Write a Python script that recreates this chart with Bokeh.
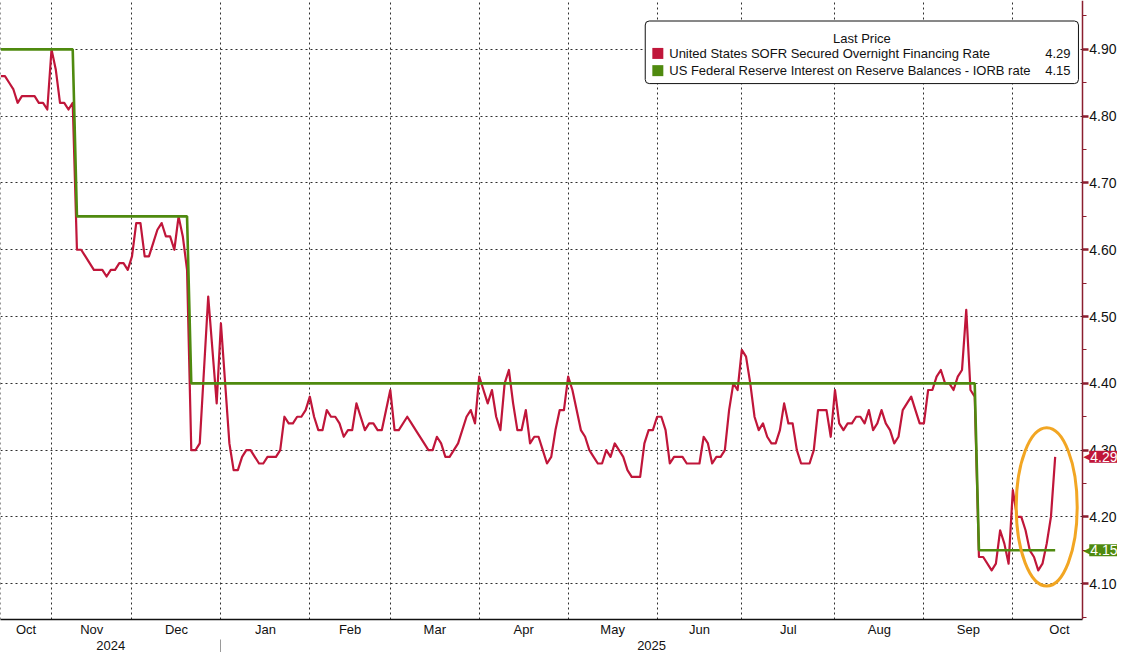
import pandas as pd
from bokeh.plotting import figure
from bokeh.models import (Range1d, FixedTicker, LinearAxis, Label, BoxAnnotation,
                          CustomJSTickFormatter, PrintfTickFormatter)
from bokeh.embed import file_html
from bokeh.resources import INLINE

# ---------------- data ----------------
# business-day calendar of the chart (day 0 = 16 Oct 2024)
first_day = "2024-10-16"
calendar_end = "2025-11-28"
market_holidays = ["2024-11-11", "2024-11-28", "2024-12-25", "2025-01-01", "2025-01-20",
                   "2025-02-17", "2025-04-18", "2025-05-26", "2025-06-19", "2025-07-04",
                   "2025-09-01", "2025-10-13", "2025-11-11"]

# United States SOFR (vertices of the line: business-day number, rate %)
sofr_day = [0, 1, 2, 3, 4, 5, 8, 9, 10, 11, 12, 13, 14, 15, 16, 17, 18, 19, 20, 22,
            24, 25, 26, 27, 28, 29, 30, 31, 32, 33, 34, 35, 36, 37, 38, 39, 40, 41, 42, 43,
            44, 45, 46, 47, 49, 51, 52, 54, 55, 56, 57, 58, 59, 60, 61, 62, 63, 65, 66, 67,
            68, 69, 70, 71, 72, 73, 74, 75, 76, 77, 78, 79, 80, 81, 82, 83, 84, 85, 86, 87,
            88, 89, 90, 92, 93, 94, 96, 97, 98, 100, 101, 102, 103, 104, 105, 106, 107, 108, 110, 111,
            112, 113, 114, 115, 116, 117, 118, 119, 120, 121, 122, 123, 124, 125, 126, 127, 128, 129, 130, 131,
            132, 133, 134, 135, 136, 137, 138, 139, 140, 141, 142, 143, 144, 145, 146, 147, 148, 149, 151, 152,
            153, 154, 155, 156, 157, 158, 159, 161, 162, 165, 166, 167, 168, 169, 170, 171, 172, 173, 174, 175,
            176, 177, 178, 179, 180, 181, 182, 183, 184, 185, 186, 187, 188, 189, 191, 192, 193, 195, 196, 197,
            198, 199, 200, 201, 202, 203, 204, 205, 206, 207, 208, 209, 210, 211, 212, 213, 214, 215, 216, 217,
            218, 219, 220, 221, 222, 223, 224, 225, 226, 227, 228, 229, 230, 231, 232, 234, 235, 236, 237, 238,
            239, 240, 241, 242, 243, 244, 245, 246, 247, 248, 249]
sofr_rate = [4.86, 4.86, 4.85, 4.84, 4.82, 4.83, 4.83, 4.82, 4.82, 4.81, 4.90, 4.87, 4.82, 4.82, 4.81, 4.82, 4.60, 4.60, 4.59, 4.57,
             4.57, 4.56, 4.57, 4.57, 4.58, 4.58, 4.57, 4.59, 4.64, 4.64, 4.59, 4.59, 4.61, 4.63, 4.64, 4.62, 4.62, 4.60, 4.65, 4.62,
             4.57, 4.30, 4.30, 4.31, 4.53, 4.37, 4.49, 4.31, 4.27, 4.27, 4.29, 4.30, 4.30, 4.29, 4.28, 4.28, 4.29, 4.29, 4.30, 4.35,
             4.34, 4.34, 4.35, 4.35, 4.36, 4.38, 4.35, 4.33, 4.33, 4.36, 4.35, 4.35, 4.34, 4.32, 4.33, 4.33, 4.37, 4.35, 4.33, 4.34,
             4.34, 4.33, 4.33, 4.39, 4.33, 4.33, 4.35, 4.34, 4.33, 4.31, 4.30, 4.30, 4.32, 4.31, 4.29, 4.29, 4.30, 4.31, 4.35, 4.36,
             4.34, 4.41, 4.39, 4.37, 4.39, 4.35, 4.33, 4.40, 4.42, 4.37, 4.33, 4.33, 4.36, 4.31, 4.32, 4.32, 4.30, 4.28, 4.29, 4.33,
             4.36, 4.36, 4.41, 4.39, 4.36, 4.33, 4.32, 4.30, 4.29, 4.28, 4.28, 4.30, 4.29, 4.31, 4.30, 4.29, 4.27, 4.26, 4.26, 4.31,
             4.33, 4.33, 4.35, 4.35, 4.33, 4.28, 4.29, 4.29, 4.28, 4.28, 4.32, 4.31, 4.28, 4.29, 4.29, 4.30, 4.36, 4.40, 4.39, 4.45,
             4.44, 4.40, 4.35, 4.33, 4.34, 4.32, 4.31, 4.31, 4.33, 4.37, 4.34, 4.34, 4.30, 4.28, 4.28, 4.30, 4.36, 4.36, 4.32, 4.39,
             4.34, 4.33, 4.34, 4.34, 4.35, 4.35, 4.34, 4.36, 4.33, 4.34, 4.36, 4.34, 4.33, 4.31, 4.32, 4.36, 4.37, 4.38, 4.36, 4.34,
             4.34, 4.39, 4.39, 4.41, 4.42, 4.40, 4.40, 4.39, 4.41, 4.42, 4.51, 4.39, 4.38, 4.14, 4.14, 4.12, 4.13, 4.18, 4.16, 4.13,
             4.24, 4.20, 4.20, 4.18, 4.15, 4.14, 4.12, 4.13, 4.16, 4.20, 4.29]

# US Federal Reserve Interest on Reserve Balances (IORB): first business day of each rate
iorb_from_day = [0, 18, 45, 231]
iorb_rate = [4.90, 4.65, 4.40, 4.15]

sofr_name = "United States SOFR Secured Overnight Financing Rate"
iorb_name = "US Federal Reserve Interest on Reserve Balances - IORB rate"
legend_title = "Last Price"

y_ticks = [4.10, 4.20, 4.30, 4.40, 4.50, 4.60, 4.70, 4.80, 4.90]

# visible window (business days / rate); the price axis sits at x_axis_at
x_start, x_axis_at = -0.05, 255.4
y_bottom, y_top = 4.0464, 4.9732

# ---------------- derived ----------------
bdays = pd.bdate_range(first_day, calendar_end, freq="C", holidays=market_holidays)
periods = bdays.to_period("M")
month_first = []
for i, m in enumerate(periods):
    if not month_first or month_first[-1][0] != m:
        month_first.append((m, i))

grid_days = [i for (m, i) in month_first if x_start < i < x_axis_at]
month_pos, month_txt = [], []
for k in range(len(month_first) - 1):
    m, f = month_first[k]
    n = month_first[k + 1][1]
    if f < x_axis_at:
        month_pos.append((max(f, x_start) + n) / 2.0)
        month_txt.append(m.strftime("%b"))

year_break = [i for (m, i) in month_first if m.month == 1][0]
year_pos = [(x_start + year_break) / 2.0, (year_break + x_axis_at) / 2.0]
year_txt = [str(periods[0].year), str(periods[year_break].year)]

iorb_x, iorb_y = [], []
for k, (d, r) in enumerate(zip(iorb_from_day, iorb_rate)):
    end = iorb_from_day[k + 1] - 1 if k + 1 < len(iorb_from_day) else sofr_day[-1]
    iorb_x += [d, end]
    iorb_y += [r, r]

y_minor = [round(t + 0.05, 2) for t in y_ticks] + [round(y_ticks[0] - 0.05, 2)]

# ---------------- style ----------------
RED = "#C0163A"
GREEN = "#4F8A0F"
AXIS_RED = "#8B1E2F"
GRID = "#2e2e2e"
ORANGE = "#F2A623"
FONT = "Liberation Sans"

W, H = 1117, 652
RIGHT_PANEL = 7                                # tick + standoff of the fixed price axis
LABEL_PX = 35                                  # room right of the price axis inside the frame
BOTTOM_PANEL = 41
frame_w = W - RIGHT_PANEL
px_per_day = (frame_w - LABEL_PX) / (x_axis_at - x_start)
x_total_end = x_axis_at + LABEL_PX / px_per_day

p = figure(width=W, height=H, x_range=Range1d(x_start, x_total_end), y_range=Range1d(y_bottom, y_top),
           y_axis_location="right", toolbar_location=None, output_backend="svg",
           min_border_left=0, min_border_top=0, min_border_right=0, min_border_bottom=0)
p.outline_line_color = None
p.background_fill_color = "white"
p.border_fill_color = "white"

# grid
p.xgrid.ticker = FixedTicker(ticks=grid_days)
for g in (p.xgrid, p.ygrid):
    g.grid_line_color = GRID
    g.grid_line_alpha = 1.0
    g.grid_line_dash = "2 3"
    g.grid_line_width = 1

# white strip to the right of the price axis (keeps grid lines out of the label area)
p.add_layout(BoxAnnotation(left=x_axis_at, right=x_total_end, fill_color="white", fill_alpha=1,
                           line_color=None, level="underlay"))

# lines
p.line(sofr_day, sofr_rate, line_color=RED, line_width=2.2, line_join="round")
p.line(iorb_x, iorb_y, line_color=GREEN, line_width=2.6)

# price axis (right)
yax = p.yaxis[0]
yax.fixed_location = x_axis_at
yax.ticker = FixedTicker(ticks=y_ticks, minor_ticks=y_minor)
yax.formatter = PrintfTickFormatter(format="%.2f")
yax.axis_line_color = AXIS_RED
yax.axis_line_width = 1.5
yax.major_tick_line_color = AXIS_RED
yax.major_tick_line_width = 2.5
yax.major_tick_in = 0
yax.major_tick_out = 6
yax.minor_tick_line_color = AXIS_RED
yax.minor_tick_in = 0
yax.minor_tick_out = 4
yax.major_label_text_font = FONT
yax.major_label_text_font_size = "14px"
yax.major_label_text_color = "#111111"
yax.major_label_standoff = 1

# month axis
xax = p.xaxis[0]
xax.bounds = (x_start, x_axis_at)
xax.ticker = FixedTicker(ticks=month_pos)
xax.formatter = CustomJSTickFormatter(args=dict(pos=month_pos, names=month_txt), code="""
    for (let i = 0; i < pos.length; i++) { if (Math.abs(pos[i] - tick) < 1e-6) return names[i]; }
    return "";
""")
xax.axis_line_color = "#111111"
xax.axis_line_width = 1.5
xax.major_tick_line_color = None
xax.major_tick_in = 0
xax.major_tick_out = 0
xax.minor_tick_line_color = None
xax.major_label_text_font = FONT
xax.major_label_text_font_size = "13px"
xax.major_label_text_color = "#111111"
xax.major_label_standoff = 2

# year axis with separator between the years
yr = LinearAxis(ticker=FixedTicker(ticks=year_pos, minor_ticks=[year_break]),
                formatter=CustomJSTickFormatter(args=dict(pos=year_pos, names=year_txt), code="""
    for (let i = 0; i < pos.length; i++) { if (Math.abs(pos[i] - tick) < 1e-6) return names[i]; }
    return "";
"""))
yr.bounds = (x_start, x_axis_at)
yr.axis_line_color = None
yr.major_tick_line_color = None
yr.major_tick_in = 0
yr.major_tick_out = 0
yr.minor_tick_line_color = "#9a9a9a"
yr.minor_tick_in = 0
yr.minor_tick_out = 18
yr.major_label_text_font = FONT
yr.major_label_text_font_size = "13px"
yr.major_label_text_color = "#111111"
yr.major_label_standoff = -17
p.add_layout(yr, "below")

# highlight ellipse around the last observations
hl_d = sofr_day[-6:]
hl_r = sofr_rate[-6:]
p.ellipse(x=[(hl_d[0] + hl_d[-1]) / 2 + 0.5], y=[(min(hl_r) + max(hl_r)) / 2 + 0.01],
          width=(hl_d[-1] - hl_d[0]) + 9.4, height=(max(hl_r) - min(hl_r)) + 0.067,
          fill_color=None, line_color=ORANGE, line_width=3)

# legend box
ppy = (H - BOTTOM_PANEL) / (y_top - y_bottom)
L, R = 152.2, 254.5
T, B = 4.9425, 4.8488
p.add_layout(BoxAnnotation(left=L, right=R, top=T, bottom=B, fill_color="white", fill_alpha=1,
                           line_color="#111111", line_alpha=1, line_width=1, border_radius=4))
p.add_layout(Label(x=(L + R) / 2, y=T, y_offset=-17, text=legend_title, text_align="center",
                   text_baseline="middle", text_font=FONT, text_font_size="13px", text_color="#111111"))
rows = [(sofr_name, sofr_rate[-1], RED, -32), (iorb_name, iorb_rate[-1], GREEN, -49)]
for name, last, col, off in rows:
    p.add_layout(Label(x=L, y=T, x_offset=24, y_offset=off, text=name, text_align="left",
                       text_baseline="middle", text_font=FONT, text_font_size="13px", text_color="#111111"))
    p.add_layout(Label(x=R, y=T, x_offset=-8, y_offset=off, text=f"{last:.2f}", text_align="right",
                       text_baseline="middle", text_font=FONT, text_font_size="13px", text_color="#111111"))
sw = p.scatter(x=[L + 12.5 / px_per_day] * 2, y=[T + rows[0][3] / ppy, T + rows[1][3] / ppy],
               marker="square", size=11, fill_color=[RED, GREEN], line_color=None)
sw.level = "overlay"

# last-value tags on the price axis
for last, col in [(sofr_rate[-1], RED), (iorb_rate[-1], GREEN)]:
    p.add_layout(Label(x=x_axis_at, y=last, x_offset=1, text="\u25C0", text_align="left",
                       text_baseline="middle", text_font="DejaVu Sans", text_font_size="11px",
                       text_color=col, level="overlay"))
    p.add_layout(Label(x=x_axis_at, y=last, x_offset=7, text=f"{last:.2f}", text_align="left",
                       text_baseline="middle", text_font=FONT, text_font_size="14px",
                       text_color="white", background_fill_color=col, background_fill_alpha=1,
                       padding=1, level="overlay"))

open("out.html", "w").write(file_html(p, INLINE))
